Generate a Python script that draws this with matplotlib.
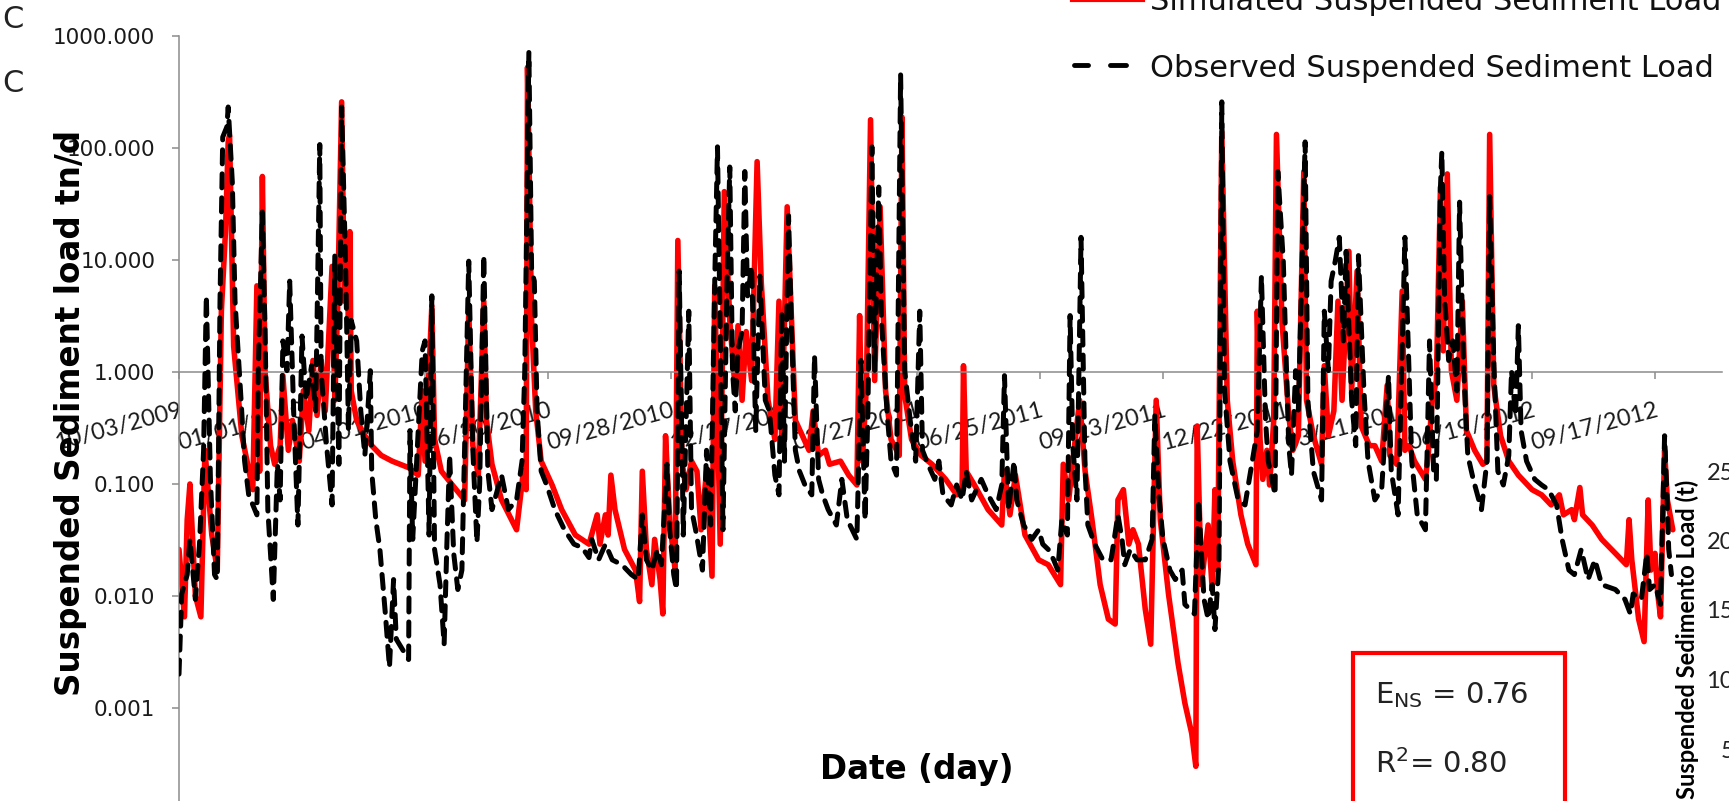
import matplotlib
matplotlib.use("Agg")
import matplotlib.pyplot as plt
from matplotlib.lines import Line2D
from matplotlib.patches import Rectangle
from matplotlib.ticker import FixedLocator, NullLocator

# ---------------- data (day index since 10/03/2009, load in tn/d) ----------------
sim_day = [0, 4, 6, 8, 12, 16, 19, 24, 28, 31,
           34, 36, 37, 40, 46, 54, 57, 59, 61, 63,
           67, 70, 74, 76, 80, 83, 88, 91, 95, 98,
           101, 104, 107, 112, 114, 116, 119, 121, 123, 124,
           125, 126, 130, 136, 141, 148, 156, 168, 175, 178,
           180, 185, 187, 192, 200, 209, 212, 215, 219, 223,
           225, 229, 236, 247, 252, 254, 255, 258, 261, 265,
           273, 280, 290, 300, 306, 308, 312, 314, 316, 319,
           326, 334, 337, 339, 342, 346, 348, 352, 354, 356,
           359, 363, 365, 368, 371, 375, 379, 382, 386, 390,
           392, 396, 399, 403, 407, 409, 412, 415, 419, 423,
           426, 431, 436, 439, 441, 445, 451, 461, 464, 468,
           473, 476, 484, 490, 496, 498, 500, 503, 506, 509,
           513, 517, 521, 527, 529, 531, 536, 543, 551, 561,
           569, 573, 574, 576, 582, 592, 602, 604, 608, 612,
           619, 629, 636, 645, 647, 651, 654, 659, 663, 668,
           674, 680, 685, 687, 691, 695, 698, 702, 707, 711,
           715, 718, 724, 731, 736, 741, 744, 745, 748, 753,
           756, 758, 760, 763, 767, 771, 777, 782, 788, 789,
           791, 793, 796, 798, 801, 803, 807, 812, 815, 819,
           823, 825, 830, 836, 838, 841, 845, 848, 851, 856,
           858, 862, 865, 871, 875, 880, 884, 886, 891, 895,
           897, 900, 904, 912, 914, 917, 920, 923, 925, 928,
           931, 935, 939, 942, 948, 954, 957, 959, 962, 967,
           973, 980, 990, 997, 1004, 1010, 1013, 1019, 1021, 1025,
           1027, 1034, 1041, 1051, 1059, 1061, 1063, 1068, 1072, 1075,
           1077, 1080, 1082, 1084, 1087, 1089, 1093]
sim_val = [0.026, 0.0065, 0.048, 0.10, 0.010, 0.0065, 0.2, 0.035, 0.017, 3.5,
           18, 114, 130, 1.7, 0.27, 0.089, 5.9, 0.13, 56, 1.0,
           0.22, 0.15, 0.22, 0.93, 0.2, 0.37, 0.16, 0.68, 0.30, 1.27,
           0.41, 1.27, 0.45, 8.8, 0.56, 3.5, 260, 4.3, 16, 2.3,
           18, 0.68, 0.37, 0.27, 0.22, 0.18, 0.16, 0.14, 0.12, 0.68,
           0.16, 3.9, 0.25, 0.13, 0.098, 0.072, 3.5, 0.22, 0.12, 4.3,
           0.37, 0.15, 0.072, 0.039, 0.13, 0.089, 530, 2.9, 0.45, 0.16,
           0.098, 0.059, 0.035, 0.029, 0.053, 0.029, 0.053, 0.035, 0.12, 0.059,
           0.026, 0.017, 0.0089, 0.13, 0.026, 0.0126, 0.032, 0.014, 0.0069, 0.27,
           0.048, 0.017, 15, 0.16, 0.089, 0.16, 0.13, 0.039, 0.13, 0.015,
           5.9, 0.029, 41, 2.9, 0.68, 2.6, 0.56, 2.3, 0.84, 76,
           6.5, 0.56, 0.25, 4.3, 0.25, 30, 0.37, 0.2, 0.45, 0.18,
           0.2, 0.15, 0.16, 0.12, 0.098, 3.2, 0.16, 0.76, 180, 0.84,
           30, 0.68, 0.25, 0.18, 190, 0.62, 0.25, 0.18, 0.15, 0.11,
           0.08, 0.089, 1.14, 0.13, 0.098, 0.059, 0.043, 0.13, 0.053, 0.12,
           0.035, 0.021, 0.019, 0.0126, 0.15, 0.072, 0.16, 0.56, 0.13, 0.048,
           0.0126, 0.0062, 0.0056, 0.072, 0.089, 0.029, 0.039, 0.029, 0.0076, 0.0037,
           0.56, 0.048, 0.0104, 0.0025, 0.0011, 0.00059, 0.0003, 0.33, 0.0126, 0.043,
           0.0114, 0.089, 0.017, 140, 0.56, 0.16, 0.053, 0.029, 0.019, 3.5,
           0.25, 0.11, 0.2, 0.098, 0.37, 133, 2.9, 0.41, 0.2, 0.27,
           62, 0.56, 0.27, 0.15, 1.14, 0.27, 0.45, 4.3, 0.56, 12,
           0.68, 8.0, 0.33, 0.22, 0.22, 0.16, 0.76, 0.18, 0.15, 5.3,
           0.2, 0.22, 0.16, 0.11, 0.18, 0.56, 0.84, 45, 1.55, 59,
           1.03, 0.56, 4.3, 0.30, 0.2, 0.15, 0.16, 133, 0.76, 0.27,
           0.16, 0.12, 0.089, 0.08, 0.065, 0.08, 0.053, 0.059, 0.048, 0.093,
           0.053, 0.043, 0.032, 0.024, 0.019, 0.048, 0.021, 0.0062, 0.0039, 0.072,
           0.017, 0.024, 0.0104, 0.0065, 0.2, 0.072, 0.039]

obs_day = [0, 2, 6, 8, 12, 15, 18, 20, 23, 26,
           28, 30, 32, 35, 36, 39, 41, 45, 48, 51,
           57, 58, 61, 63, 65, 69, 72, 74, 76, 79,
           81, 84, 87, 90, 93, 97, 100, 103, 104, 108,
           112, 114, 117, 119, 122, 124, 126, 130, 133, 136,
           140, 141, 144, 147, 151, 154, 157, 159, 168, 169,
           171, 178, 180, 183, 185, 187, 191, 194, 196, 198,
           201, 204, 207, 212, 215, 218, 220, 223, 226, 229,
           232, 236, 241, 247, 251, 253, 256, 258, 260, 262,
           265, 269, 275, 282, 289, 295, 300, 302, 307, 312,
           317, 324, 331, 336, 339, 342, 346, 350, 353, 357,
           359, 362, 364, 366, 369, 373, 375, 378, 383, 386,
           389, 392, 394, 396, 398, 401, 403, 405, 407, 409,
           412, 414, 416, 419, 422, 425, 429, 432, 436, 439,
           441, 443, 446, 448, 451, 454, 458, 463, 465, 468,
           471, 475, 481, 485, 489, 496, 499, 502, 504, 507,
           509, 512, 514, 518, 521, 525, 528, 531, 535, 539,
           542, 544, 548, 553, 556, 559, 565, 569, 573, 576,
           580, 587, 592, 598, 602, 604, 607, 611, 613, 618,
           624, 629, 632, 636, 640, 643, 646, 650, 652, 654,
           657, 660, 663, 665, 670, 676, 682, 687, 690, 692,
           696, 701, 707, 712, 714, 717, 720, 725, 729, 734,
           736, 743, 746, 750, 753, 756, 758, 761, 763, 765,
           769, 775, 780, 789, 792, 795, 797, 802, 804, 808,
           812, 814, 817, 819, 824, 826, 830, 836, 838, 841,
           843, 846, 849, 852, 854, 858, 861, 863, 867, 870,
           875, 880, 885, 887, 892, 897, 900, 902, 906, 912,
           915, 918, 920, 923, 924, 926, 929, 932, 935, 937,
           940, 943, 947, 953, 957, 959, 962, 965, 969, 973,
           975, 978, 980, 982, 986, 992, 997, 1002, 1008, 1012,
           1017, 1021, 1026, 1031, 1036, 1041, 1051, 1058, 1062, 1064,
           1070, 1074, 1076, 1080, 1084, 1087, 1089, 1090, 1092]
obs_val = [0.002, 0.0104, 0.0155, 0.032, 0.0093, 0.029, 0.2, 4.8, 0.11, 0.0155,
           0.014, 4.3, 126, 155, 234, 50, 4.3, 0.68, 0.16, 0.08,
           0.053, 1.03, 27, 2.3, 0.059, 0.0093, 0.15, 0.072, 1.9, 1.03,
           6.5, 0.41, 0.043, 2.1, 0.56, 1.14, 0.45, 108, 1.03, 0.22,
           0.065, 11, 0.15, 234, 8, 0.30, 2.9, 1.9, 0.45, 0.18,
           1.03, 0.13, 0.048, 0.026, 0.0069, 0.0023, 0.014, 0.0041, 0.0027, 0.30,
           0.032, 1.55, 1.9, 0.035, 4.8, 0.026, 0.0126, 0.0037, 0.029, 0.18,
           0.024, 0.0114, 0.017, 9.8, 0.2, 0.03, 0.1, 11, 0.13, 0.059,
           0.08, 0.12, 0.059, 0.072, 0.16, 1.03, 720, 8, 6.5, 0.45,
           0.13, 0.098, 0.059, 0.039, 0.029, 0.027, 0.022, 0.032, 0.021, 0.029,
           0.021, 0.019, 0.0155, 0.014, 0.053, 0.021, 0.017, 0.026, 0.019, 0.15,
           0.039, 0.0155, 0.0114, 8, 0.035, 3.5, 0.059, 0.039, 0.017, 0.2,
           0.043, 6.5, 103, 2.3, 0.039, 6.5, 68, 1.03, 0.45, 1.55,
           2.3, 62, 4.8, 8.8, 0.30, 7.2, 0.56, 0.45, 0.12, 0.08,
           3.5, 0.16, 25, 2.9, 0.2, 0.13, 0.098, 0.08, 1.4, 0.11,
           0.08, 0.059, 0.043, 0.11, 0.048, 0.032, 1.27, 0.048, 0.41, 103,
           1.03, 45, 2.9, 0.45, 0.16, 0.12, 455, 1.03, 0.37, 0.16,
           3.5, 0.2, 0.15, 0.11, 0.16, 0.08, 0.065, 0.098, 0.072, 0.13,
           0.072, 0.11, 0.08, 0.059, 0.098, 0.93, 0.059, 0.16, 0.072, 0.043,
           0.032, 0.039, 0.029, 0.026, 0.021, 0.017, 0.048, 0.035, 3.2, 0.22,
           0.072, 16, 0.13, 0.043, 0.029, 0.021, 0.021, 0.053, 0.032, 0.019,
           0.026, 0.021, 0.021, 0.032, 0.41, 0.08, 0.032, 0.017, 0.014, 0.017,
           0.0084, 0.0069, 0.072, 0.0093, 0.0062, 0.0126, 0.005, 0.021, 260, 0.68,
           0.16, 0.072, 0.065, 0.30, 7.2, 0.37, 0.16, 0.08, 62, 9.8,
           0.22, 0.12, 1.03, 0.45, 114, 0.56, 0.13, 0.072, 3.5, 1.03,
           6.5, 9.8, 16, 1.9, 12, 0.56, 0.22, 11, 0.68, 0.16,
           0.072, 0.09, 0.93, 0.13, 0.053, 16, 1.03, 0.16, 0.053, 0.039,
           1.9, 0.13, 0.11, 45, 93, 4.8, 1.27, 1.9, 0.68, 33,
           1.03, 0.18, 0.11, 0.059, 0.16, 37, 1.27, 0.13, 0.098, 0.18,
           1.03, 0.41, 2.6, 0.30, 0.16, 0.11, 0.098, 0.089, 0.065, 0.032,
           0.017, 0.0155, 0.026, 0.014, 0.021, 0.0126, 0.0114, 0.0093, 0.0069, 0.0104,
           0.0093, 0.024, 0.0114, 0.0126, 0.0084, 0.27, 0.065, 0.026, 0.0155]

xtick_days = [0, 90, 180, 270, 360, 450, 540, 630, 720, 810, 900, 990, 1080]
xtick_labels = ["10/03/2009", "01/01/2010", "04/01/2010", "06/30/2010",
                "09/28/2010", "12/27/2010", "03/27/2011", "06/25/2011",
                "09/23/2011", "12/22/2011", "03/21/2012", "06/19/2012",
                "09/17/2012"]
ytick_vals = [0.001, 0.01, 0.1, 1, 10, 100, 1000]
ytick_labels = ["0.001", "0.010", "0.100", "1.000", "10.000", "100.000", "1000.000"]
right_ticks = ["25", "20", "15", "10", "5"]

# ---------------- figure ----------------
W, H = 1729, 801
def fx(x):
    return x / W
def fy(y):
    return 1 - y / H

grey = "#8c8c8c"
fig = plt.figure(figsize=(W / 100, H / 100), dpi=100)
ax = fig.add_axes([fx(179), 0, (1722 - 179) / W, (H - 36.4) / H])
ax.set_yscale("log")
ax.set_ylim(10 ** (-3.833), 1000)
ax.set_xlim(0, 1129)

ax.plot(sim_day, sim_val, color="#ff0000", lw=4.0, solid_joinstyle="round",
        solid_capstyle="round", zorder=2)
ax.plot(obs_day, obs_val, color="black", lw=3.6, linestyle=(0, (2.8, 2.0)),
        dash_capstyle="round", dash_joinstyle="round", zorder=3)

for s in ["top", "right"]:
    ax.spines[s].set_visible(False)
ax.spines["left"].set_color(grey)
ax.spines["left"].set_linewidth(1.1)
ax.spines["bottom"].set_position(("data", 1.0))
ax.spines["bottom"].set_color(grey)
ax.spines["bottom"].set_linewidth(1.1)

ax.yaxis.set_major_locator(FixedLocator(ytick_vals))
ax.yaxis.set_minor_locator(NullLocator())
ax.set_yticklabels(ytick_labels)
ax.tick_params(axis="y", direction="out", length=5, width=1.1, color=grey,
               pad=12, labelsize=15.5, labelcolor="#1a1a1a")

ax.set_xticks(xtick_days)
ax.set_xticklabels(xtick_labels, rotation=15, ha="right", va="top",
                   rotation_mode="anchor", fontfamily="Lato", fontsize=17,
                   color="#1a1a1a")
ax.xaxis.set_minor_locator(NullLocator())
ax.tick_params(axis="x", direction="out", length=5, width=1.1, color=grey, pad=15)

# axis titles
fig.text(fx(71), fy(413), "Suspended Sediment load tn/d", rotation=90,
         ha="center", va="center", fontsize=23.5, fontweight="bold")
fig.text(fx(917), fy(770), "Date (day)", ha="center", va="center",
         fontsize=23.5, fontweight="bold")

# stray letters on left
fig.text(fx(2), fy(19), "C", ha="left", va="center", fontsize=22, color="#222222")
fig.text(fx(2), fy(84), "C", ha="left", va="center", fontsize=22, color="#222222")

# legend (partly cut off at top)
fig.add_artist(Line2D([fx(1072), fx(1143)], [fy(-0.5), fy(-0.5)], color="#ff0000",
                      lw=3.0, transform=fig.transFigure))
fig.text(fx(1150), fy(10), "Simulated Suspended Sediment Load", ha="left",
         va="baseline", fontsize=22, color="#111111")
for x0, x1 in [(1074, 1088), (1110, 1126)]:
    fig.add_artist(Line2D([fx(x0), fx(x1)], [fy(65), fy(65)], color="black",
                          lw=3.5, solid_capstyle="round", transform=fig.transFigure))
fig.text(fx(1150), fy(77), "Observed Suspended Sediment Load", ha="left",
         va="baseline", fontsize=22, color="#111111")

# statistics box
fig.add_artist(Rectangle((fx(1353), fy(860)), (1565 - 1353) / W, (860 - 653) / H,
                         transform=fig.transFigure, facecolor="white",
                         edgecolor="#ff0000", lw=3.0, zorder=5))
fig.text(fx(1375), fy(703), r"E$_{\mathregular{NS}}$ = 0.76", ha="left", va="baseline",
         fontsize=21, color="#222222", zorder=6)
fig.text(fx(1375), fy(773), r"R$^{\mathregular{2}}$= 0.80", ha="left", va="baseline",
         fontsize=21, color="#222222", zorder=6)

# pieces of a neighbouring chart on the right edge
fig.text(fx(1687), fy(480), "Suspended Sedimento Load (t)", rotation=90,
         ha="center", va="top", fontsize=17, fontweight="bold", fontfamily="Lato")
for i, lab in enumerate(right_ticks):
    fig.text(fx(1734), fy(473 + 69.5 * i), lab, ha="right", va="center",
             fontsize=17, fontfamily="Lato", color="#222222")

fig.savefig("out.png", dpi=100)
